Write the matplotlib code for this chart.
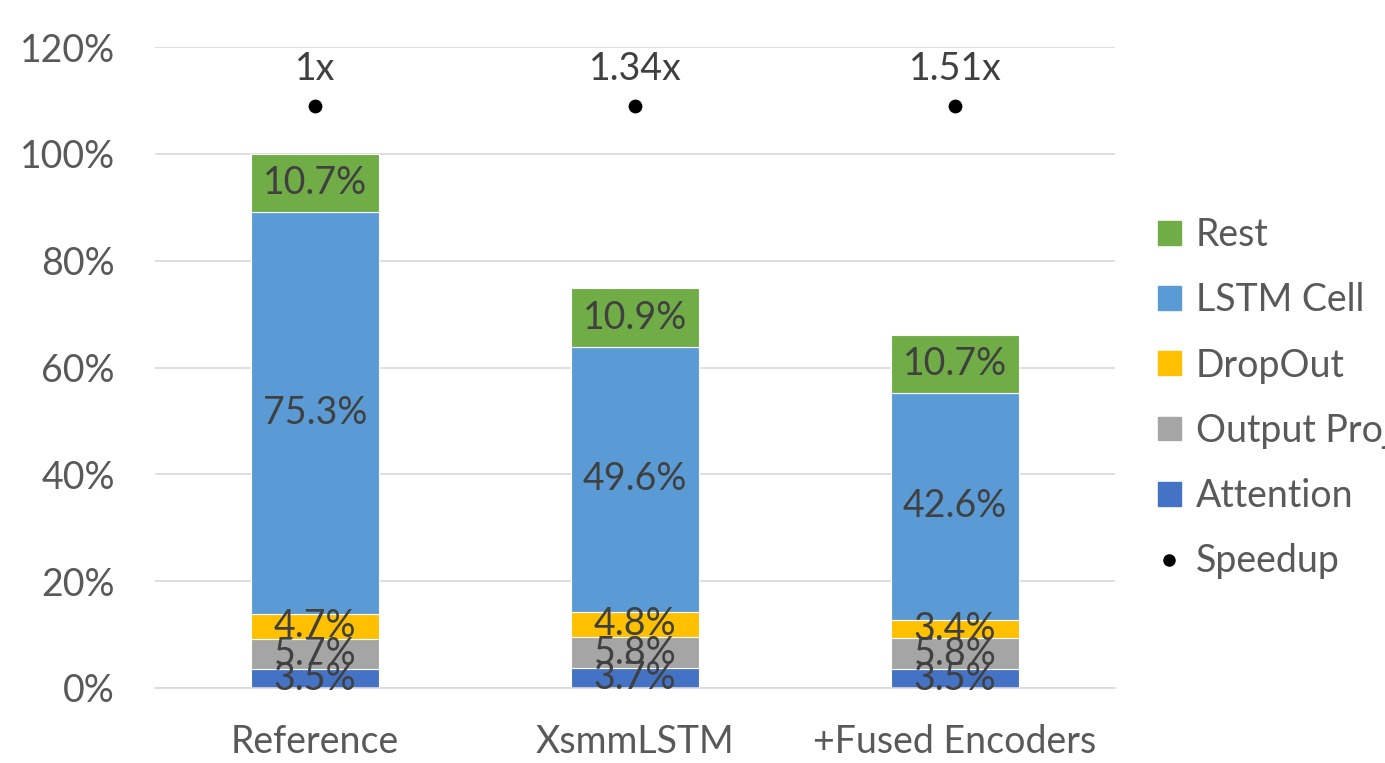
import matplotlib.pyplot as plt
import matplotlib as mpl
from matplotlib.lines import Line2D
from matplotlib.patches import Patch
import numpy as np

mpl.rc('font', family=['Lato', 'DejaVu Sans'])

configs = ['Reference', 'XsmmLSTM', '+Fused Encoders']
attention = [3.5, 3.7, 3.5]
output_proj = [5.7, 5.8, 5.8]
dropout = [4.7, 4.8, 3.4]
lstm_cell = [75.3, 49.6, 42.6]
rest = [10.7, 10.9, 10.7]
speedup = [1.0, 1.34, 1.51]
speedup_labels = ['1x', '1.34x', '1.51x']
speedup_level = [109, 109, 109]

series = [('Attention', attention, '#4472C4'),
          ('Output Proj', output_proj, '#A5A5A5'),
          ('DropOut', dropout, '#FFC000'),
          ('LSTM Cell', lstm_cell, '#5B9BD5'),
          ('Rest', rest, '#70AD47')]

txt = '#404040'
fs = 27
fig = plt.figure(figsize=(13.85, 7.63), dpi=100)
ax = fig.add_axes([155/1385, 1 - 688/763, 960/1385, 641/763])

x = np.arange(len(configs))
bottom = np.zeros(len(configs))
for name, vals, col in series:
    vals = np.array(vals)
    ax.bar(x, vals, 0.4, bottom=bottom, color=col, edgecolor='white', linewidth=0.8, zorder=2)
    for xi, b, v in zip(x, bottom, vals):
        ax.text(xi, b + v / 2, '%.1f%%' % v, ha='center', va='center',
                fontsize=fs, color=txt, zorder=3)
    bottom += vals

ax.scatter(x, speedup_level, s=80, color='black', zorder=3)
for xi, lvl, lab in zip(x, speedup_level, speedup_labels):
    ax.text(xi, lvl + 3.5, lab, ha='center', va='bottom', fontsize=fs, color=txt)

ax.set_xlim(-0.5, 2.5)
ax.set_ylim(0, 120)
ax.set_yticks(range(0, 121, 20))
ax.set_yticklabels(['%d%%' % t for t in range(0, 121, 20)])
ax.set_xticks(x)
ax.set_xticklabels(configs)
ax.tick_params(length=0, labelsize=fs, labelcolor='#595959')
ax.tick_params(axis='x', pad=26)
ax.tick_params(axis='y', pad=29)
ax.grid(axis='y', color='#D9D9D9', linewidth=1.2, zorder=0)
ax.set_axisbelow(True)
for s in ['top', 'right', 'left']:
    ax.spines[s].set_visible(False)
ax.spines['bottom'].set_color('#D9D9D9')
ax.spines['bottom'].set_linewidth(1.2)

handles = [Patch(color=col, label=name) for name, vals, col in series[::-1]]
handles.append(Line2D([], [], marker='o', color='black', linestyle='none',
                      markersize=8, label='Speedup'))
fig.legend(handles=handles, loc='upper left', bbox_to_anchor=(1143/1385, 1 - 202/763),
           frameon=False, fontsize=fs, labelcolor='#595959', handlelength=0.6,
           handleheight=0.6, handletextpad=0.4, labelspacing=0.78, borderaxespad=0)

fig.savefig('out.png', dpi=100)
